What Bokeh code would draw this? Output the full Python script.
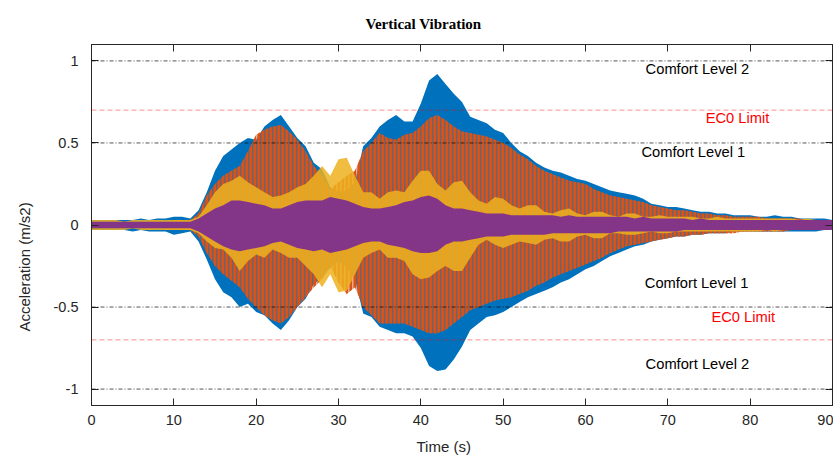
from bokeh.plotting import figure
from bokeh.models import (Range1d, FixedTicker, LinearAxis, Label, Title,
                          ColumnDataSource, Span)
from bokeh.embed import file_html
from bokeh.resources import INLINE

# ---------------- data (envelopes, 1 s steps) ----------------
time_s = list(range(0, 91))

blue_upper = [0.03, 0.03, 0.03, 0.03, 0.03, 0.03, 0.04, 0.03, 0.04, 0.04, 0.05, 0.05, 0.04,
              0.09, 0.20, 0.33, 0.42, 0.46, 0.50, 0.53, 0.52,
              0.60, 0.64, 0.67, 0.60, 0.53, 0.48, 0.38, 0.34, 0.23, 0.20,
              0.21, 0.26, 0.48, 0.53, 0.60, 0.64, 0.67, 0.63, 0.63, 0.74,
              0.88, 0.92, 0.86, 0.80, 0.75, 0.66, 0.64, 0.62, 0.58, 0.56,
              0.50, 0.45, 0.42, 0.38, 0.35, 0.33, 0.32, 0.30, 0.28, 0.27,
              0.25, 0.23, 0.21, 0.20, 0.19, 0.18, 0.16, 0.13, 0.12, 0.11,
              0.11, 0.10, 0.09, 0.08, 0.08, 0.07, 0.07, 0.06, 0.06, 0.06,
              0.05, 0.05, 0.06, 0.05, 0.05, 0.04, 0.04, 0.04, 0.04, 0.03]
blue_lower = [-0.03, -0.03, -0.03, -0.03, -0.03, -0.04, -0.03, -0.04, -0.04, -0.04, -0.06, -0.05, -0.04,
              -0.10, -0.21, -0.33, -0.41, -0.44, -0.50, -0.48, -0.53,
              -0.55, -0.60, -0.64, -0.58, -0.50, -0.45, -0.36, -0.32, -0.26, -0.22,
              -0.26, -0.33, -0.54, -0.56, -0.62, -0.64, -0.66, -0.66, -0.68, -0.75,
              -0.86, -0.89, -0.88, -0.82, -0.74, -0.64, -0.60, -0.56, -0.55, -0.53,
              -0.50, -0.47, -0.44, -0.42, -0.40, -0.38, -0.35, -0.33, -0.30, -0.27,
              -0.25, -0.22, -0.19, -0.17, -0.15, -0.13, -0.12, -0.10, -0.09, -0.08,
              -0.07, -0.07, -0.06, -0.06, -0.05, -0.05, -0.05, -0.04, -0.04, -0.04,
              -0.04, -0.04, -0.04, -0.04, -0.04, -0.04, -0.04, -0.04, -0.03, -0.03]

orange_upper = [0.02, 0.02, 0.02, 0.02, 0.02, 0.02, 0.02, 0.02, 0.03, 0.02, 0.03, 0.03, 0.03,
                0.07, 0.18, 0.25, 0.30, 0.33, 0.36, 0.45, 0.55,
                0.58, 0.60, 0.61, 0.57, 0.52, 0.45, 0.36, 0.30, 0.22, 0.26,
                0.30, 0.33, 0.45, 0.50, 0.56, 0.53, 0.52, 0.55, 0.56, 0.60,
                0.65, 0.67, 0.64, 0.60, 0.57, 0.56, 0.55, 0.54, 0.52, 0.50,
                0.47, 0.43, 0.40, 0.36, 0.33, 0.31, 0.29, 0.27, 0.26, 0.25,
                0.22, 0.20, 0.18, 0.17, 0.16, 0.15, 0.14, 0.12, 0.11, 0.10,
                0.09, 0.09, 0.08, 0.07, 0.07, 0.06, 0.06, 0.05, 0.05, 0.05,
                0.05, 0.04, 0.04, 0.04, 0.04, 0.04, 0.03, 0.03, 0.03, 0.03]
orange_lower = [-0.02, -0.02, -0.02, -0.02, -0.02, -0.02, -0.02, -0.03, -0.02, -0.03, -0.03, -0.03, -0.03,
                -0.07, -0.17, -0.25, -0.30, -0.34, -0.38, -0.45, -0.50,
                -0.55, -0.58, -0.60, -0.56, -0.50, -0.44, -0.38, -0.33, -0.25, -0.35,
                -0.42, -0.38, -0.50, -0.55, -0.60, -0.60, -0.60, -0.60, -0.62, -0.64,
                -0.66, -0.66, -0.64, -0.60, -0.56, -0.52, -0.50, -0.48, -0.46, -0.45,
                -0.44, -0.42, -0.40, -0.37, -0.35, -0.32, -0.30, -0.28, -0.26, -0.24,
                -0.22, -0.20, -0.17, -0.15, -0.13, -0.12, -0.11, -0.10, -0.09, -0.08,
                -0.07, -0.07, -0.06, -0.06, -0.05, -0.05, -0.05, -0.05, -0.04, -0.04,
                -0.04, -0.04, -0.04, -0.04, -0.03, -0.03, -0.03, -0.03, -0.03, -0.03]

yellow_upper = [0.03, 0.03, 0.03, 0.03, 0.02, 0.03, 0.03, 0.03, 0.03, 0.03, 0.03, 0.03, 0.03,
                0.05, 0.12, 0.20, 0.25, 0.27, 0.30, 0.26, 0.23,
                0.20, 0.17, 0.18, 0.20, 0.23, 0.25, 0.30, 0.36, 0.30, 0.40,
                0.41, 0.30, 0.20, 0.20, 0.16, 0.20, 0.21, 0.20, 0.27, 0.33,
                0.33, 0.25, 0.21, 0.26, 0.27, 0.20, 0.15, 0.13, 0.17, 0.16,
                0.12, 0.10, 0.12, 0.12, 0.08, 0.07, 0.09, 0.10, 0.07, 0.06,
                0.08, 0.08, 0.06, 0.05, 0.07, 0.07, 0.05, 0.05, 0.06, 0.05,
                0.05, 0.05, 0.05, 0.04, 0.04, 0.05, 0.04, 0.04, 0.04, 0.04,
                0.04, 0.04, 0.04, 0.04, 0.04, 0.03, 0.04, 0.03, 0.03, 0.03]
yellow_lower = [-0.03, -0.03, -0.03, -0.03, -0.03, -0.02, -0.03, -0.03, -0.03, -0.03, -0.03, -0.03, -0.03,
                -0.05, -0.10, -0.14, -0.15, -0.20, -0.28, -0.22, -0.18,
                -0.20, -0.15, -0.17, -0.20, -0.20, -0.25, -0.30, -0.38, -0.30, -0.41,
                -0.40, -0.30, -0.20, -0.17, -0.15, -0.20, -0.20, -0.22, -0.30, -0.33,
                -0.32, -0.28, -0.25, -0.28, -0.28, -0.20, -0.12, -0.09, -0.12, -0.14,
                -0.12, -0.10, -0.11, -0.12, -0.09, -0.08, -0.10, -0.10, -0.07, -0.06,
                -0.08, -0.08, -0.05, -0.05, -0.06, -0.06, -0.05, -0.04, -0.05, -0.05,
                -0.04, -0.04, -0.04, -0.04, -0.04, -0.04, -0.04, -0.04, -0.04, -0.04,
                -0.04, -0.03, -0.04, -0.03, -0.03, -0.03, -0.03, -0.03, -0.03, -0.03]

purple_upper = [0.02, 0.02, 0.02, 0.02, 0.02, 0.02, 0.02, 0.02, 0.02, 0.02, 0.02, 0.02, 0.02,
                0.04, 0.07, 0.10, 0.12, 0.15, 0.15, 0.14, 0.13,
                0.12, 0.10, 0.10, 0.12, 0.14, 0.15, 0.15, 0.15, 0.17, 0.16,
                0.15, 0.13, 0.11, 0.10, 0.10, 0.11, 0.12, 0.14, 0.15, 0.17,
                0.18, 0.16, 0.12, 0.10, 0.10, 0.09, 0.08, 0.07, 0.07, 0.07,
                0.06, 0.06, 0.06, 0.06, 0.06, 0.06, 0.05, 0.06, 0.05, 0.05,
                0.05, 0.05, 0.05, 0.05, 0.05, 0.04, 0.05, 0.04, 0.04, 0.04,
                0.04, 0.04, 0.03, 0.04, 0.03, 0.03, 0.03, 0.03, 0.03, 0.03,
                0.03, 0.03, 0.03, 0.03, 0.03, 0.03, 0.03, 0.03, 0.03, 0.03]
purple_lower = [-0.02, -0.02, -0.02, -0.02, -0.02, -0.02, -0.02, -0.02, -0.02, -0.02, -0.02, -0.02, -0.02,
                -0.04, -0.07, -0.10, -0.13, -0.15, -0.16, -0.15, -0.14,
                -0.13, -0.11, -0.10, -0.12, -0.14, -0.15, -0.16, -0.15, -0.17, -0.16,
                -0.15, -0.13, -0.11, -0.10, -0.10, -0.12, -0.13, -0.14, -0.16, -0.17,
                -0.17, -0.16, -0.12, -0.10, -0.10, -0.09, -0.08, -0.07, -0.07, -0.07,
                -0.06, -0.06, -0.06, -0.06, -0.06, -0.05, -0.05, -0.05, -0.05, -0.05,
                -0.05, -0.05, -0.05, -0.04, -0.04, -0.04, -0.04, -0.04, -0.04, -0.04,
                -0.04, -0.03, -0.03, -0.03, -0.03, -0.03, -0.03, -0.03, -0.03, -0.03,
                -0.03, -0.03, -0.03, -0.03, -0.03, -0.03, -0.03, -0.03, -0.03, -0.03]

comfort_levels = [0.5, 1.0]
ec0_limit = 0.7

x_ticks = [0, 10, 20, 30, 40, 50, 60, 70, 80, 90]
x_tick_labels = ["0", "10", "20", "30", "40", "50", "60", "70", "80", "90"]
y_ticks = [-1.0, -0.5, 0.0, 0.5, 1.0]
y_tick_labels = ["-1", "-0.5", "0", "0.5", "1"]

title_text = "Vertical Vibration"
x_label = "Time (s)"
y_label = "Acceleration (m/s2)"

# ---------------- figure ----------------
AX = "#262626"
FONT = "Liberation Sans"

p = figure(width=833, height=462, output_backend="svg", toolbar_location=None,
           x_range=Range1d(0, 90), y_range=Range1d(-1.1, 1.1),
           min_border_left=91, min_border_right=1, min_border_top=44, min_border_bottom=56)
p.background_fill_color = "white"
p.border_fill_color = "white"
p.grid.visible = False
p.outline_line_color = AX
p.outline_line_width = 1


def style_axis(ax, ticks, labels, show_labels):
    ax.ticker = FixedTicker(ticks=ticks)
    ax.major_label_overrides = {t: s for t, s in zip(ticks, labels)}
    ax.major_tick_in = 7
    ax.major_tick_out = 0
    ax.minor_tick_in = 0
    ax.minor_tick_out = 0
    ax.minor_tick_line_color = None
    ax.axis_line_color = AX
    ax.major_tick_line_color = AX
    if show_labels:
        ax.major_label_text_font = FONT
        ax.major_label_text_font_size = "14.5px"
        ax.major_label_text_color = AX
    else:
        ax.major_label_text_font_size = "0px"
        ax.major_label_text_color = None
        ax.major_label_standoff = 0


for ax in p.xaxis:
    style_axis(ax, x_ticks, x_tick_labels, True)
    ax.major_label_standoff = 9
for ax in p.yaxis:
    style_axis(ax, y_ticks, y_tick_labels, True)
    ax.major_label_standoff = 13
    ax.major_label_text_baseline = "bottom"

top_axis = LinearAxis()
style_axis(top_axis, x_ticks, x_tick_labels, False)
p.add_layout(top_axis, "above")
right_axis = LinearAxis()
style_axis(right_axis, y_ticks, y_tick_labels, False)
p.add_layout(right_axis, "right")

# ---------------- signals ----------------
src = ColumnDataSource(dict(t=time_s,
                            bu=blue_upper, bl=blue_lower,
                            ou=orange_upper, ol=orange_lower,
                            yu=yellow_upper, yl=yellow_lower,
                            pu=purple_upper, pl=purple_lower))

# blue: solid envelope
p.varea(x="t", y1="bl", y2="bu", source=src, fill_color="#0072BD", fill_alpha=1.0)
# orange: dense vertical strokes over the blue (blue shows between them)
p.varea(x="t", y1="ol", y2="ou", source=src, fill_color="#D95319", fill_alpha=0.5,
        hatch_pattern="vertical_line", hatch_color="#D95319", hatch_scale=4,
        hatch_weight=3.0, hatch_alpha=1.0)
# yellow
p.varea(x="t", y1="yl", y2="yu", source=src, fill_color="#EDB120", fill_alpha=0.85)
# purple core
p.varea(x="t", y1="pl", y2="pu", source=src, fill_color="#7E2F8E", fill_alpha=0.95)

# ---------------- reference lines ----------------
for lvl in comfort_levels:
    for sgn in (1, -1):
        p.add_layout(Span(location=sgn * lvl, dimension="width", line_color="#000000",
                          line_alpha=0.75, line_width=0.9, line_dash="4 2 1 2"))
for sgn in (1, -1):
    p.add_layout(Span(location=sgn * ec0_limit, dimension="width", line_color="#ff0000",
                      line_alpha=0.45, line_width=1, line_dash="5 3"))

notes = [("Comfort Level 2", 67.3, 0.953, "#000000"),
         ("EC0 Limit", 74.6, 0.652, "#ff0000"),
         ("Comfort Level 1", 66.8, 0.446, "#000000"),
         ("Comfort Level 1", 67.2, -0.351, "#000000"),
         ("EC0 Limit", 75.3, -0.559, "#ff0000"),
         ("Comfort Level 2", 67.3, -0.845, "#000000")]
for txt, x, y, col in notes:
    p.add_layout(Label(x=x, y=y, text=txt, text_font=FONT, text_font_size="14.7px",
                       text_color=col, text_align="left", text_baseline="middle"))

# ---------------- titles ----------------
p.title = Title(text=title_text, align="left", offset=274, standoff=26,
                text_font="Liberation Serif", text_font_style="bold",
                text_font_size="15px", text_color="#000000")
p.add_layout(Title(text=x_label, align="left", offset=325, standoff=16,
                   text_font=FONT, text_font_style="normal", text_font_size="15px",
                   text_color=AX), "below")
p.add_layout(Title(text=y_label, align="left", offset=74, standoff=31,
                   vertical_align="top",
                   text_font=FONT, text_font_style="normal", text_font_size="15px",
                   text_color=AX), "left")

open("out.html", "w").write(file_html(p, INLINE))
